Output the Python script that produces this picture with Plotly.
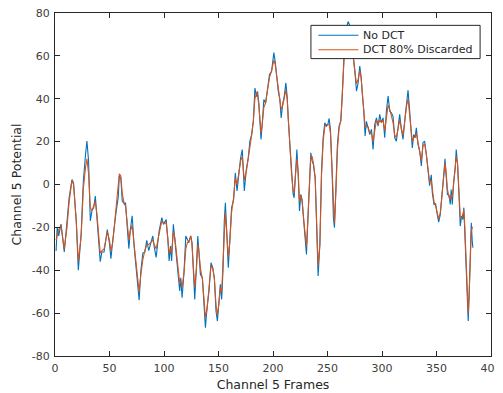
import plotly.graph_objects as go

frames = [1, 2, 3.4, 5.5, 8.5, 11, 13, 15.6, 17, 19.5, 21.4, 24, 26, 28, 29.3, 30.8, 32.4, 34, 35.4, 37,
          38.5, 40, 41.5, 43, 45, 47, 48, 50, 51.3, 53, 54.6, 56, 58, 59, 60.4, 61.7, 63.5, 64.7, 66.5, 67.8,
          69, 70.8, 72.6, 74.5, 76.3, 77.2, 78.8, 80.6, 82.4, 84.2, 86, 88, 89.7, 91, 92.8, 95.5, 98, 99.5, 102, 103.5,
          104.7, 106, 107, 108.6, 110, 111.7, 113.2, 114.4, 115.4, 116.6, 118.4, 120, 121.5, 122.7, 124.5, 125.7, 126.6, 128.2, 129.7, 131,
          131.8, 133.4, 135.2, 136.7, 138, 139.5, 141.3, 143.1, 144.7, 146.2, 147.7, 149, 150.5, 151.7, 152.9, 154.1, 155.3, 156.3, 157.5, 159,
          160.5, 162, 163.9, 165.4, 167, 168.8, 170.3, 171.8, 172.7, 173.7, 175.5, 177.3, 178.8, 180.4, 182, 183.4, 185, 185.8, 187, 189,
          190.1, 191.6, 193.2, 195, 196.8, 198.7, 199.9, 200.8, 202, 203.5, 204.8, 206.3, 207.5, 209, 210.3, 211.8, 213, 214, 215.5, 217,
          218.5, 219.4, 220.6, 221.9, 223.1, 224.3, 225.5, 226.7, 228.3, 229.5, 230.7, 232.2, 233.8, 234.7, 235.9, 237.1, 238.7, 240.2, 241.4, 243,
          244.5, 246, 247.5, 249, 250.3, 251.5, 252.7, 254.2, 255.4, 256.4, 257.6, 259.1, 260.6, 262.2, 263.4, 264.6, 265.5, 267, 268.9, 270.5,
          272, 273.5, 275, 276.6, 278.1, 279.6, 280.8, 282, 283.3, 284.5, 285.7, 287.2, 288.8, 290.3, 291.8, 293.3, 294.9, 296.4, 297.9, 299.5,
          301, 302.5, 304, 305.6, 307.1, 308.6, 310.1, 311.7, 313.2, 314.7, 316.2, 317.8, 319.3, 320.8, 322.3, 323.9, 325.4, 326.6, 327.8, 329.1,
          330.3, 331.5, 333, 334.6, 336.1, 337.6, 339.1, 340.7, 342.2, 343.7, 345.2, 346.2, 347.7, 349.2, 350.7, 352, 353.5, 355.3, 356.9, 357.8,
          358.8, 360, 361.5, 362.6, 363.5, 364.5, 365.7, 367.2, 368.1, 369.3, 370.6, 371.8, 373, 374.2, 375.1, 376, 377.3, 378.2, 379.1, 380,
          381, 381.9, 382.8, 383.4]

no_dct = [-31, -20, -24, -18.5, -31.5, -18.5, -6, 2.3, 0.8, -17, -40, -23, 1.5, 14, 20.3, 11, -17, -12, -11, -5.4,
          -14, -26, -36, -31.5, -31.5, -24.6, -21, -27.7, -34.6, -26, -18.5, -13, -6, 4, 3, -7.7, -9, -8.5, -21.5, -30,
          -21.5, -14.6, -29, -38.5, -49, -54, -40, -32, -31.5, -26, -30.8, -27, -24, -29, -34, -21.7, -15.5, -18.6, -16.3, -25.6,
          -35.7, -28.7, -35.7, -18.6, -26.4, -34, -44.2, -49.7, -43.5, -52.8, -40.4, -24, -25.6, -27, -24, -27, -36.5, -53.6, -38.8, -24,
          -29.5, -42, -43.5, -54.4, -66.8, -57.5, -49.7, -36.5, -38.8, -43.5, -59, -63.7, -54.4, -46.6, -53.6, -40.4, -17, -8.5, -21.7, -38.8,
          -24.8, -10.9, -7, 5.4, -3, 6.2, 12.4, 16.3, 9.3, -3, 7, 12.4, 20.2, 23.3, 29.5, 45, 41, 43.5, 38, 21,
          28, 39.6, 38, 44.3, 51.3, 52.8, 57.5, 61.5, 57.5, 49.7, 43.5, 39.6, 31, 38, 41, 47.4, 41, 30.3, 17, 4.7,
          -4.6, -6.2, 4.7, 16.3, 4.7, -12.4, -4.6, -7, -17.8, -26.4, -32.6, -14, 10.9, 14.8, 10.9, 9.3, 3.1, -21.7, -42.7, -28,
          6.2, 21.8, 28.8, 27.2, 28, 30.8, 25.7, 6.2, -15.5, -20.2, -3, 18.7, 27.2, 29.5, 40.4, 55.9, 63.7, 72, 76, 74,
          68, 62.2, 53.6, 43.5, 47.4, 55.2, 50.5, 42, 34.2, 22.6, 29.5, 26.4, 23.3, 25.7, 16.3, 28, 31.1, 27.2, 32.7, 28.8,
          31.1, 21.8, 34.2, 41.2, 34.2, 33.4, 31.9, 21.8, 20.2, 26.4, 32.7, 25.7, 21, 29.5, 37.3, 44, 34.2, 24.1, 17.1, 23.3,
          21.8, 26.4, 18.7, 15.6, 8.6, 19.5, 20.2, 14, 4.7, -0.5, 4.5, -4, -9.3, -9, -14, -17.6, -14, -5, 6.2, 12,
          6, -4.6, -5, -9.3, -2.3, -9.3, 0.8, 7.8, 16.3, 9.3, -4.6, -19.4, -14.7, -16.3, -10.8, -23.3, -43.5, -60.5, -63.7, -51.2,
          -29.5, -17.8, -26.4, -29.5]

dct_80 = [-26, -24, -21, -19, -30, -20, -8, 2, 0, -17, -36, -24, -2, 8, 12, 5, -11, -12, -10, -8,
          -14, -24, -32, -31, -30, -25, -22, -26, -31, -27, -19, -12, -2, 5, 4, -4, -9, -10, -19, -26,
          -22, -19, -28, -38, -46, -50, -42, -35, -31, -28, -28, -27, -26, -28, -30, -23, -17, -18, -18, -25,
          -32, -30, -32, -22, -25, -33, -42, -46, -45, -48, -41, -30, -27, -27, -24, -28, -36, -48, -40, -28,
          -30, -39, -44, -52, -62, -58, -49, -38, -39, -44, -56, -61, -55, -48, -50, -38, -22, -13, -22, -34,
          -26, -13, -6, 3, 0, 5, 11, 13, 9, 2, 6, 12, 19, 23, 30, 40, 43, 42, 37, 24,
          28, 36, 38, 45, 50, 53, 56, 58, 56, 50, 45, 40, 35, 37, 40, 44, 40, 31, 17, 5,
          -3, -4, 4, 12, 6, -8, -5, -8, -17, -24, -29, -14, 8, 13, 13, 10, 3, -20, -38, -28,
          4, 20, 27, 28, 28, 28, 24, 7, -13, -18, -5, 16, 26, 30, 40, 54, 62, 70, 74, 72,
          67, 60, 53, 47, 49, 53, 50, 42, 34, 27, 27, 27, 24, 24, 20, 26, 30, 28, 30, 29,
          30, 25, 32, 37, 35, 32, 29, 23, 22, 26, 30, 26, 23, 29, 36, 40, 33, 25, 20, 22,
          22, 24, 20, 15, 11, 18, 19, 14, 6, 1, 2, -3, -8, -10, -13, -16, -13, -5, 5, 10,
          6, -2, -6, -7, -5, -6, 0, 7, 13, 10, -3, -15, -16, -13, -12, -20, -40, -55, -60, -50,
          -33, -22, -20, -20]

series_names = ["No DCT", "DCT 80% Discarded"]
series_colors = ["#0072BD", "#D95319"]

x_ticks = [0, 50, 100, 150, 200, 250, 300, 350, 400]
y_ticks = [-80, -60, -40, -20, 0, 20, 40, 60, 80]

font_family = "DejaVu Sans"
axis_color = "#262626"
label_color = "#404040"

fig = go.Figure()
for name, color, ys in zip(series_names, series_colors, [no_dct, dct_80]):
    fig.add_trace(go.Scatter(x=frames, y=ys, mode="lines", name=name,
                             line=dict(color=color, width=1.1), showlegend=False))

axis_common = dict(showline=True, linecolor=axis_color, linewidth=1, mirror="ticks",
                   ticks="inside", ticklen=5, tickcolor=axis_color, showgrid=False,
                   zeroline=False, automargin=False, ticklabelstandoff=2,
                   ticklabeloverflow="allow",
                   tickfont=dict(family=font_family, size=11, color=label_color))

# Manual legend (box + line samples + labels), placed in paper coordinates
leg_x0, leg_x1 = 0.587, 0.975
leg_y0, leg_y1 = 0.867, 0.964
row_y = [0.935, 0.893]
sample_x0, sample_x1 = 0.604, 0.696
text_x = 0.702

shapes = [dict(type="rect", xref="paper", yref="paper", x0=leg_x0, x1=leg_x1, y0=leg_y0, y1=leg_y1,
               fillcolor="white", line=dict(color=axis_color, width=1), layer="above")]
annotations = []
for name, color, ry in zip(series_names, series_colors, row_y):
    shapes.append(dict(type="line", xref="paper", yref="paper", x0=sample_x0, x1=sample_x1,
                       y0=ry, y1=ry, line=dict(color=color, width=1.1), layer="above"))
    annotations.append(dict(text=name, xref="paper", yref="paper", x=text_x, y=ry,
                            xanchor="left", yanchor="middle", showarrow=False,
                            font=dict(family=font_family, size=11, color=axis_color)))

# the page body adds an 8px offset; the figure is sized so the plot area lands where the reference has it
fig.update_layout(
    width=495, height=385,
    margin=dict(l=47, r=12, t=5, b=37),
    paper_bgcolor="white", plot_bgcolor="white",
    font=dict(family=font_family, color=axis_color),
    xaxis=dict(range=[0, 400], tickvals=x_ticks, ticktext=[str(v) for v in x_ticks],
               title=dict(text="Channel 5 Frames", font=dict(size=12.5, family=font_family), standoff=6),
               **axis_common),
    yaxis=dict(range=[-80, 80], tickvals=y_ticks, ticktext=[str(v) for v in y_ticks],
               title=dict(text="Channel 5 Potential", font=dict(size=12.5, family=font_family), standoff=7),
               **axis_common),
    shapes=shapes,
    annotations=annotations,
    showlegend=False,
)

fig.write_html("out.html")
